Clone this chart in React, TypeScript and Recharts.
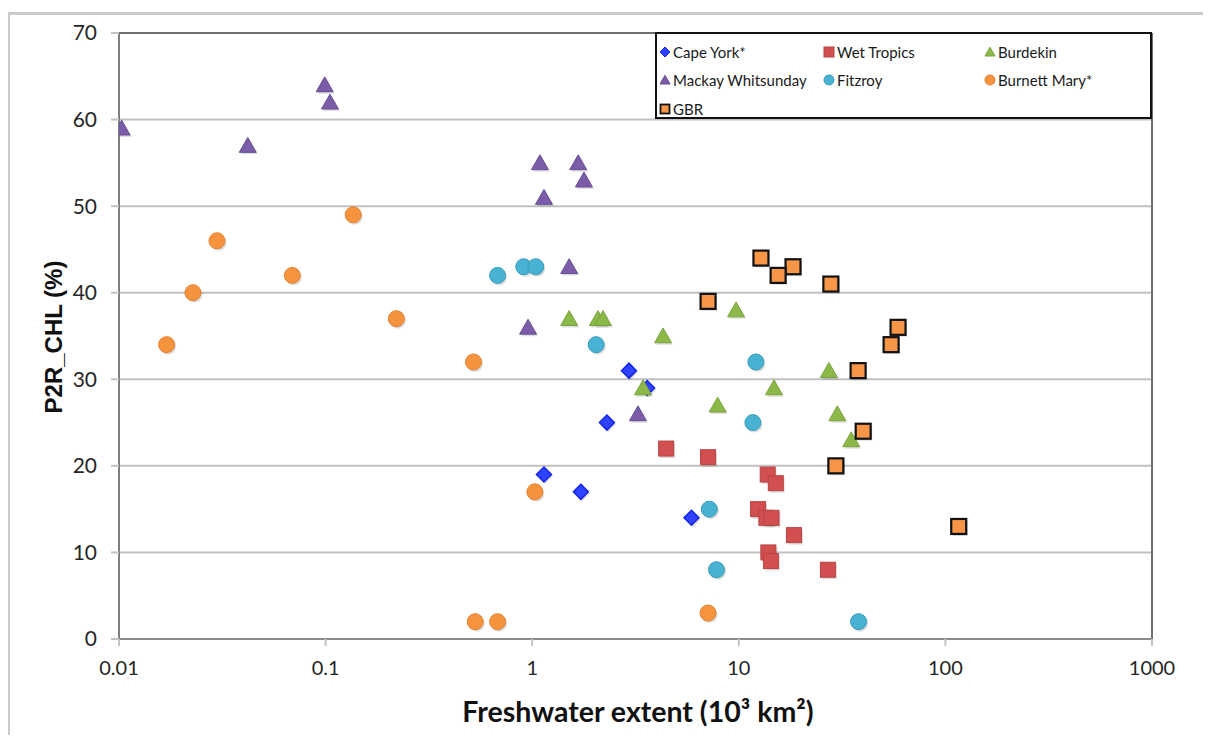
import React from 'react';
import {
  ScatterChart,
  Scatter,
  XAxis,
  YAxis,
  CartesianGrid,
  ReferenceLine,
} from 'recharts';

// values: x = freshwater extent (10^3 km2), y = P2R_CHL (%)
const capeYork = [
  { x: 2.94, y: 31 }, { x: 3.6, y: 29 }, { x: 2.3, y: 25 },
  { x: 1.14, y: 19 }, { x: 1.72, y: 17 }, { x: 5.9, y: 14 },
];
const wetTropics = [
  { x: 4.45, y: 22 }, { x: 7.1, y: 21 }, { x: 13.8, y: 19 }, { x: 15.1, y: 18 },
  { x: 12.4, y: 15 }, { x: 13.6, y: 14 }, { x: 14.4, y: 14 }, { x: 18.5, y: 12 },
  { x: 13.9, y: 10 }, { x: 14.3, y: 9 }, { x: 27, y: 8 },
];
const burdekin = [
  { x: 9.7, y: 38 }, { x: 1.51, y: 37 }, { x: 2.08, y: 37 }, { x: 2.2, y: 37 },
  { x: 4.3, y: 35 }, { x: 27.3, y: 31 }, { x: 3.44, y: 29 }, { x: 14.8, y: 29 },
  { x: 7.9, y: 27 }, { x: 30, y: 26 }, { x: 35, y: 23 },
];
const mackayWhitsunday = [
  { x: 0.0103, y: 59 }, { x: 0.099, y: 64 }, { x: 0.105, y: 62 }, { x: 0.042, y: 57 },
  { x: 1.09, y: 55 }, { x: 1.67, y: 55 }, { x: 1.78, y: 53 }, { x: 1.14, y: 51 },
  { x: 1.51, y: 43 }, { x: 0.955, y: 36 }, { x: 3.25, y: 26 },
];
const fitzroy = [
  { x: 0.68, y: 42 }, { x: 0.91, y: 43 }, { x: 1.04, y: 43 }, { x: 2.04, y: 34 },
  { x: 12.1, y: 32 }, { x: 11.7, y: 25 }, { x: 7.2, y: 15 }, { x: 7.8, y: 8 },
  { x: 38, y: 2 },
];
const burnettMary = [
  { x: 0.017, y: 34 }, { x: 0.0228, y: 40 }, { x: 0.0298, y: 46 }, { x: 0.069, y: 42 },
  { x: 0.136, y: 49 }, { x: 0.22, y: 37 }, { x: 0.52, y: 32 }, { x: 1.03, y: 17 },
  { x: 0.53, y: 2 }, { x: 0.68, y: 2 }, { x: 7.1, y: 3 },
];
const gbr = [
  { x: 12.8, y: 44 }, { x: 18.3, y: 43 }, { x: 15.5, y: 42 }, { x: 27.9, y: 41 },
  { x: 7.1, y: 39 }, { x: 59, y: 36 }, { x: 54.6, y: 34 }, { x: 37.8, y: 31 },
  { x: 40, y: 24 }, { x: 29.5, y: 20 }, { x: 116, y: 13 },
];

const xTicks = [0.01, 0.1, 1, 10, 100, 1000];
const xTickLabels = ['0.01', '0.1', '1', '10', '100', '1000'];
const yTicks = [0, 10, 20, 30, 40, 50, 60, 70];

type Kind = 'diamond' | 'square' | 'triangle' | 'circle';

interface SeriesDef {
  name: string;
  data: { x: number; y: number }[];
  kind: Kind;
  fill: string;
  stroke: string;
  sw: number;
}

const series: SeriesDef[] = [
  { name: 'Cape York*', data: capeYork, kind: 'diamond', fill: '#2f43ff', stroke: '#1426e6', sw: 1.5 },
  { name: 'Wet Tropics', data: wetTropics, kind: 'square', fill: '#d24f4f', stroke: '#b94444', sw: 1 },
  { name: 'Burdekin', data: burdekin, kind: 'triangle', fill: '#8cb84a', stroke: '#7aa43d', sw: 1 },
  { name: 'Mackay Whitsunday', data: mackayWhitsunday, kind: 'triangle', fill: '#7a5ca8', stroke: '#684d95', sw: 1 },
  { name: 'Fitzroy', data: fitzroy, kind: 'circle', fill: '#47b2d2', stroke: '#3a9bbb', sw: 1 },
  { name: 'Burnett Mary*', data: burnettMary, kind: 'circle', fill: '#f5933f', stroke: '#e3812f', sw: 1 },
  { name: 'GBR', data: gbr, kind: 'square', fill: '#f79646', stroke: '#111111', sw: 2.2 },
];

const drawMark = (kind: Kind, cx: number, cy: number, s: number, fill: string, stroke: string, sw: number) => {
  const h = s / 2;
  if (kind === 'circle') return <circle cx={cx} cy={cy} r={h} fill={fill} stroke={stroke} strokeWidth={sw} />;
  if (kind === 'square')
    return <rect x={cx - h} y={cy - h} width={s} height={s} fill={fill} stroke={stroke} strokeWidth={sw} />;
  if (kind === 'diamond')
    return (
      <polygon
        points={`${cx},${cy - h} ${cx + h},${cy} ${cx},${cy + h} ${cx - h},${cy}`}
        fill={fill}
        stroke={stroke}
        strokeWidth={sw}
      />
    );
  return (
    <polygon
      points={`${cx},${cy - h * 0.95} ${cx + h},${cy + h * 0.8} ${cx - h},${cy + h * 0.8}`}
      fill={fill}
      stroke={stroke}
      strokeWidth={sw}
    />
  );
};

const makeShape = (d: SeriesDef) => (props: any) => {
  const { cx, cy } = props;
  const s = d.kind === 'triangle' ? 17 : d.kind === 'diamond' ? 15 : d.kind === 'circle' ? 16 : 15;
  return (
    <g>
      {drawMark(d.kind, cx + 1.5, cy + 2, s, 'rgba(0,0,0,0.13)', 'none', 0)}
      {drawMark(d.kind, cx, cy, s, d.fill, d.stroke, d.sw)}
    </g>
  );
};

const legendPos = [
  [657, 44], [821, 44], [982, 44],
  [657, 72], [821, 72], [982, 72],
  [657, 101],
];

const font = 'Lato, "Open Sans", sans-serif';

export default function App() {
  return (
    <div style={{ position: 'relative', width: 1203, height: 727, overflow: 'hidden', fontFamily: font }}>
      <div
        style={{
          position: 'absolute',
          left: -1,
          top: 4,
          width: 1250,
          height: 760,
          borderTop: '3px solid #cacaca',
          borderLeft: '3px solid #cacaca',
        }}
      />
      <div style={{ position: 'absolute', left: 0, top: 0 }}>
        <ScatterChart width={1195} height={727} margin={{ top: 25, right: 51, left: 11, bottom: 36 }}>
          <CartesianGrid horizontal vertical={false} stroke="#c0c0c0" strokeWidth={2} />
          <XAxis
            type="number"
            dataKey="x"
            scale="log"
            domain={[0.01, 1000]}
            ticks={xTicks}
            allowDataOverflow
            interval={0}
            height={60}
            tickFormatter={(v: number) => xTickLabels[xTicks.indexOf(v)] ?? String(v)}
            tick={{ fill: '#262626', fontSize: 20, fontFamily: font }}
            tickSize={7}
            tickMargin={15}
            tickLine={{ stroke: '#c3c3c3', strokeWidth: 2 }}
            axisLine={{ stroke: '#8a8a8a', strokeWidth: 2 }}
          />
          <YAxis
            type="number"
            dataKey="y"
            domain={[0, 70]}
            ticks={yTicks}
            interval={0}
            width={100}
            tick={{ fill: '#262626', fontSize: 21, fontFamily: font }}
            tickSize={8}
            tickMargin={14}
            tickLine={{ stroke: '#c3c3c3', strokeWidth: 2 }}
            axisLine={{ stroke: '#7f7f7f', strokeWidth: 2 }}
          />
          <ReferenceLine y={70} stroke="#6f6f6f" strokeWidth={2} />
          <ReferenceLine x={1000} stroke="#6f6f6f" strokeWidth={2} />
          {series.map((d) => (
            <Scatter
              key={d.name}
              name={d.name}
              data={d.data}
              shape={makeShape(d)}
              isAnimationActive={false}
            />
          ))}
        </ScatterChart>
      </div>
      <div
        style={{
          position: 'absolute',
          left: 647,
          top: 24,
          width: 497,
          height: 87,
          border: '2px solid #111',
          background: '#fff',
          boxSizing: 'border-box',
        }}
      />
      {series.map((d, i) => (
        <div
          key={d.name}
          style={{
            position: 'absolute',
            left: legendPos[i][0] - 6,
            top: legendPos[i][1] - 10,
            height: 20,
            display: 'flex',
            alignItems: 'center',
            fontSize: 15,
            color: '#1a1a1a',
            whiteSpace: 'nowrap',
          }}
        >
          <svg width={12} height={12} style={{ marginRight: 2 }}>
            {drawMark(d.kind, 6, 6, d.kind === 'square' && d.sw > 2 ? 9 : 10, d.fill, d.stroke, d.sw > 2 ? 1.8 : 1)}
          </svg>
          {d.name}
        </div>
      ))}
      <div
        style={{
          position: 'absolute',
          left: 630 - 300,
          top: 703 - 18,
          width: 600,
          textAlign: 'center',
          fontSize: 28.5,
          fontWeight: 700,
          lineHeight: '36px',
          color: '#111',
        }}
      >
        Freshwater extent (10³ km²)
      </div>
      <div
        style={{
          position: 'absolute',
          left: 46 - 100,
          top: 329 - 15,
          width: 200,
          height: 30,
          lineHeight: '30px',
          textAlign: 'center',
          transform: 'rotate(-90deg)',
          fontFamily: '"Liberation Sans", Arial, sans-serif',
          fontSize: 24,
          fontWeight: 700,
          color: '#111',
        }}
      >
        P2R_CHL (%)
      </div>
    </div>
  );
}
